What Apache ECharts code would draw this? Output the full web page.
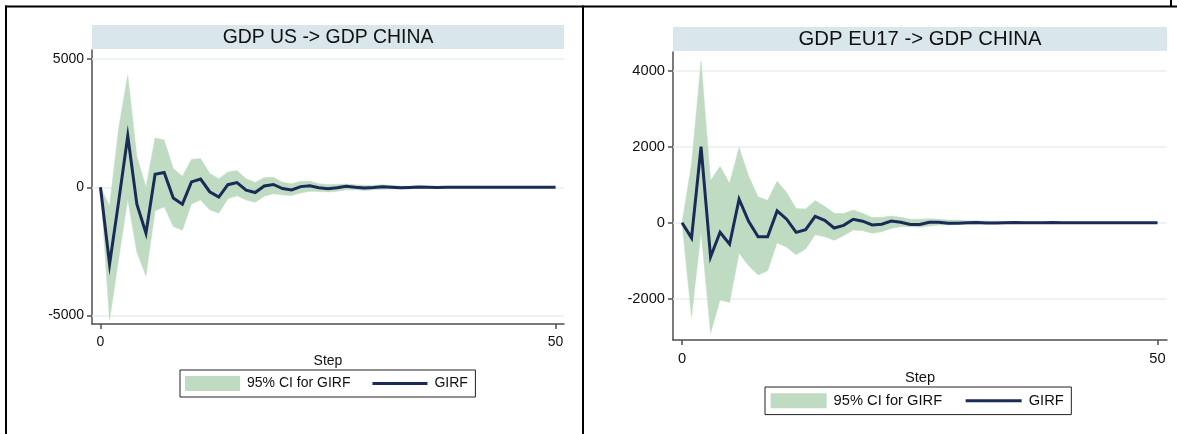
<!DOCTYPE html>
<html>
<head>
<meta charset="utf-8">
<script src="https://cdn.jsdelivr.net/npm/echarts@6/dist/echarts.min.js"></script>
<style>
html,body{margin:0;padding:0;background:#ffffff;}
#chart{width:1177px;height:434px;}
</style>
</head>
<body>
<div id="chart"></div>
<script>
// ---------- data ----------
const steps = [0,1,2,3,4,5,6,7,8,9,10,11,12,13,14,15,16,17,18,19,20,21,22,23,24,25,26,27,28,29,30,31,32,33,34,35,36,37,38,39,40,41,42,43,44,45,46,47,48,49,50];
const titles = ['GDP US -> GDP CHINA', 'GDP EU17 -> GDP CHINA'];
const legendNames = ['95% CI for GIRF', 'GIRF'];
const xName = 'Step';
const xTicks = [0, 50];
const usYTicks = [-5000, 0, 5000];
const euYTicks = [-2000, 0, 2000, 4000];

const usGirf  = [0,-3000,-550,2000,-660,-1790,510,575,-420,-660,210,320,-175,-385,100,185,-110,-205,50,110,-50,-105,25,55,-15,-55,-15,40,0,-30,-10,20,0,-15,-5,10,0,-8,-3,5,0,-4,-1,3,0,-2,-1,1,0,-1,0];
const usUpper = [0,-730,2300,4380,1195,10,1920,1845,730,425,1085,1120,545,330,590,650,330,190,380,390,200,135,230,240,140,110,115,130,100,75,75,100,70,50,50,60,40,30,30,35,25,20,20,20,15,12,12,12,10,8,8];
const usLower = [0,-5180,-2800,-470,-2530,-3460,-930,-755,-1530,-1680,-650,-495,-880,-1010,-450,-330,-500,-580,-350,-250,-300,-320,-220,-160,-170,-185,-155,-100,-100,-130,-100,-80,-70,-70,-60,-50,-45,-40,-35,-30,-28,-25,-22,-20,-18,-16,-14,-12,-10,-9,-8];

const euGirf  = [0,-400,2000,-900,-250,-565,620,35,-370,-370,310,92,-255,-185,168,62,-140,-70,90,40,-60,-40,45,10,-45,-45,10,10,-15,-15,0,5,-5,-8,0,3,-3,-4,0,2,-2,-2,0,1,-1,-1,0,0,0,0,0];
const euUpper = [0,1540,4255,1110,1480,1035,1975,1230,680,585,1090,795,370,360,580,430,245,240,335,245,135,140,175,140,90,90,105,90,70,70,50,50,45,40,35,30,28,25,22,20,18,15,14,12,11,10,9,8,7,6,6];
const euLower = [0,-2480,-235,-2905,-2030,-2095,-800,-1130,-1375,-1265,-530,-645,-840,-690,-320,-370,-460,-340,-190,-210,-275,-235,-150,-105,-105,-120,-90,-60,-60,-50,-40,-40,-35,-35,-30,-25,-22,-20,-18,-15,-14,-12,-11,-10,-9,-8,-7,-6,-5,-5,-5];

// ---------- styles / layout ----------
const FONT = '"Liberation Sans", Arial, Helvetica, sans-serif';
const GREEN = '#bfdcc2';
const NAVY = '#1b2b57';
const AXIS = '#4f4f4f';
const GRIDLINE = '#e7eff0';
const TITLEBOX = '#d9e6eb';
const TEXT = '#111111';
const LINE_ICON = 'path://M0 0H56V3H0Z';

const panels = [
  { girf: usGirf, upper: usUpper, lower: usLower, yTicks: usYTicks, title: titles[0],
    grid: {left: 92, top: 50, width: 472, height: 274},
    xMin: -0.93, xMax: 50.93, yMin: -5330, yMax: 5350,
    font: 14, titleFont: 19.4, labelMarginX: 11, labelMarginY: 8, nameGap: 25,
    titleBox: {x: 92, y: 25, w: 472, h: 24},
    legend: {left: 180, top: 370, itemWidth: 55, itemGap: 22, padding: [6, 7.5, 6, 5]} },
  { girf: euGirf, upper: euUpper, lower: euLower, yTicks: euYTicks, title: titles[1],
    grid: {left: 673, top: 52, width: 494, height: 288},
    xMin: -0.95, xMax: 51.0, yMin: -3083, yMax: 4486,
    font: 14.7, titleFont: 20.3, labelMarginX: 11, labelMarginY: 8, nameGap: 25,
    titleBox: {x: 673, y: 27, w: 494, h: 24},
    legend: {left: 765, top: 387, itemWidth: 56, itemGap: 23.5, padding: [6.3, 7.6, 6.3, 5.6]} }
];

function plainNumber(v) { return String(v); }

const option = {
  animation: false,
  backgroundColor: '#ffffff',
  grid: [], xAxis: [], yAxis: [], series: [], legend: [], graphic: []
};

panels.forEach(function (p, idx) {
  option.grid.push(Object.assign({outerBoundsMode: 'none', containLabel: false}, p.grid));
  option.xAxis.push({
    type: 'value', gridIndex: idx, min: p.xMin, max: p.xMax,
    name: xName, nameLocation: 'middle', nameGap: p.nameGap,
    nameTextStyle: {fontFamily: FONT, fontSize: p.font, color: TEXT},
    axisLine: {show: true, onZero: false, lineStyle: {color: AXIS, width: 1.5}},
    axisTick: {show: true, length: 5, customValues: xTicks, lineStyle: {color: AXIS, width: 1.5}},
    axisLabel: {customValues: xTicks, formatter: plainNumber, margin: p.labelMarginX, fontFamily: FONT, fontSize: p.font, color: TEXT},
    splitLine: {show: false}
  });
  option.yAxis.push({
    type: 'value', gridIndex: idx, min: p.yMin, max: p.yMax,
    axisLine: {show: true, onZero: false, lineStyle: {color: AXIS, width: 1.5}},
    axisTick: {show: true, length: 5, customValues: p.yTicks, lineStyle: {color: AXIS, width: 1.5}},
    axisLabel: {customValues: p.yTicks, formatter: plainNumber, margin: p.labelMarginY, fontFamily: FONT, fontSize: p.font, color: TEXT},
    splitLine: {show: false}
  });
  const girf = p.girf, upper = p.upper, lower = p.lower;
  option.series.push({
    type: 'custom', name: legendNames[0], xAxisIndex: idx, yAxisIndex: idx,
    silent: true, z: 2,
    itemStyle: {color: GREEN},
    data: steps.map(function (s, i) { return [s, lower[i], upper[i]]; }),
    encode: {x: 0, y: [1, 2]},
    renderItem: function (params, api) {
      if (params.dataIndex !== 0) return null;
      const pts = [];
      for (let i = 0; i < steps.length; i++) pts.push(api.coord([steps[i], upper[i]]));
      for (let i = steps.length - 1; i >= 0; i--) pts.push(api.coord([steps[i], lower[i]]));
      return {type: 'polygon', shape: {points: pts}, style: {fill: GREEN, stroke: GREEN, lineWidth: 0.5}};
    }
  });
  option.series.push({
    type: 'line', name: legendNames[1], xAxisIndex: idx, yAxisIndex: idx,
    silent: true, z: 3, symbol: 'none', showSymbol: false,
    lineStyle: {color: NAVY, width: 3, join: 'miter'},
    itemStyle: {color: NAVY},
    data: steps.map(function (s, i) { return [s, girf[i]]; }),
    markLine: {
      silent: true, symbol: 'none', z: 1, animation: false,
      label: {show: false},
      lineStyle: {color: GRIDLINE, width: 1.5, type: 'solid'},
      data: p.yTicks.map(function (v) { return {yAxis: v}; })
    }
  });
  option.legend.push({
    left: p.legend.left, top: p.legend.top, orient: 'horizontal',
    selectedMode: false,
    itemWidth: p.legend.itemWidth, itemHeight: 15, itemGap: p.legend.itemGap,
    padding: p.legend.padding,
    borderColor: '#222222', borderWidth: 1, backgroundColor: '#ffffff',
    textStyle: {fontFamily: FONT, fontSize: p.font, color: TEXT, lineHeight: 15, padding: [0, 0, 0, 2]},
    data: [
      {name: legendNames[0], icon: 'rect', itemStyle: {color: GREEN, borderWidth: 0}},
      {name: legendNames[1], icon: LINE_ICON, itemStyle: {color: NAVY, borderWidth: 0}}
    ]
  });
  option.graphic.push({
    type: 'rect', silent: true, z: 0,
    shape: {x: p.titleBox.x, y: p.titleBox.y, width: p.titleBox.w, height: p.titleBox.h},
    style: {fill: TITLEBOX}
  });
  option.graphic.push({
    type: 'text', silent: true, z: 1,
    x: p.titleBox.x + p.titleBox.w / 2, y: p.titleBox.y + p.titleBox.h / 2 + 0.5,
    style: {text: p.title, fontFamily: FONT, fontSize: p.titleFont, fill: TEXT, align: 'center', verticalAlign: 'middle'}
  });
});

// panel frame lines
[
  [5, 6.5, 1177, 6.5],
  [6, 5.5, 6, 434],
  [583, 5.5, 583, 434],
  [1171, 0, 1171, 7]
].forEach(function (l) {
  option.graphic.push({
    type: 'line', silent: true, z: 5,
    shape: {x1: l[0], y1: l[1], x2: l[2], y2: l[3]},
    style: {stroke: '#000000', lineWidth: 2}
  });
});

const chart = echarts.init(document.getElementById('chart'), null, {renderer: 'canvas'});
chart.setOption(option);
</script>
</body>
</html>
